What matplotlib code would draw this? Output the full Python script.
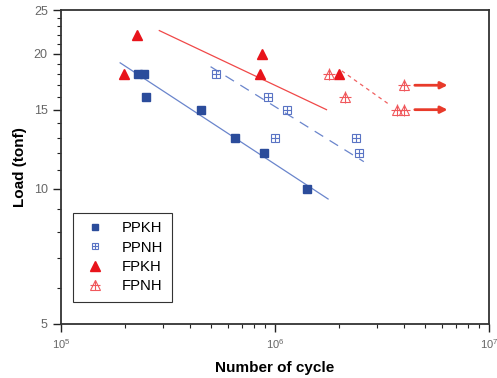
import numpy as np
import matplotlib
matplotlib.use("Agg")
import matplotlib.pyplot as plt
from matplotlib.ticker import FixedLocator, NullFormatter, LogFormatterMathtext

plt.rcParams['font.family'] = ['Liberation Sans', 'DejaVu Sans']

# data
ppkh_x = [2.3e5, 2.45e5, 2.5e5, 4.5e5, 6.5e5, 8.9e5, 1.41e6]
ppkh_y = [18, 18, 16, 15, 13, 12, 10]
ppnh_x = [5.3e5, 9.3e5, 1.14e6, 1.0e6, 2.4e6, 2.48e6]
ppnh_y = [18, 16, 15, 13, 13, 12]
fpkh_x = [1.97e5, 2.26e5, 8.7e5, 8.5e5, 1.98e6]
fpkh_y = [18, 22, 20, 18, 18]
fpnh_x = [1.79e6, 2.12e6, 3.7e6, 4.0e6, 4.0e6]
fpnh_y = [18, 16, 15, 15, 17]

# fitted S-N lines (end points)
ppkh_fit_x = [1.89e5, 1.77e6]
ppkh_fit_y = [19.07, 9.49]
ppnh_fit_x = [5.0e5, 2.6e6]
ppnh_fit_y = [18.7, 11.49]
fpkh_fit_x = [2.88e5, 1.74e6]
fpkh_fit_y = [22.5, 15.0]
fpnh_fit_x = [2.05e6, 3.44e6]
fpnh_fit_y = [18.3, 15.37]

# run-outs
runout_x0 = 4.5e6
runout_x1 = 6.4e6
runout_y = [17, 15]

c_dark = '#2b4c9b'
c_light = '#5a74c4'
c_red = '#e8141b'
c_red2 = '#f0585c'

fig = plt.figure(figsize=(4.97, 3.78), dpi=100)
ax = fig.add_axes([0.1227, 0.1429, 0.8613, 0.8306])
ax.set_xscale('log')
ax.set_yscale('log')

ax.plot(ppkh_fit_x, ppkh_fit_y, color='#6a85cc', lw=0.9)
ax.plot(ppnh_fit_x, ppnh_fit_y, color='#6a85cc', lw=0.9, dashes=(8, 6))
ax.plot(fpkh_fit_x, fpkh_fit_y, color='#f04848', lw=0.9)
ax.plot(fpnh_fit_x, fpnh_fit_y, color='#f06060', lw=0.9, dashes=(3, 3))

h1, = ax.plot(ppkh_x, ppkh_y, 's', color=c_dark, ms=5.5, mec=c_dark)
h2a, = ax.plot(ppnh_x, ppnh_y, 's', mfc='none', mec=c_light, ms=5.5, mew=0.8)
h2b, = ax.plot(ppnh_x, ppnh_y, '+', color=c_light, ms=5.5, mew=0.8)
h3, = ax.plot(fpkh_x, fpkh_y, '^', color=c_red, ms=7.5)
h4a, = ax.plot(fpnh_x, fpnh_y, '^', mfc='none', mec=c_red2, ms=7.5, mew=0.8)
h4b, = ax.plot(fpnh_x, fpnh_y, '+', color=c_red2, ms=8, mew=0.8)

for y in runout_y:
    ax.annotate('', xy=(runout_x1, y), xytext=(runout_x0, y),
                arrowprops=dict(arrowstyle='-|>', color='#e83a2a', lw=2,
                                mutation_scale=10, shrinkA=0, shrinkB=0))

ax.set_xlim(1e5, 1e7)
ax.set_ylim(5, 25)

ax.xaxis.set_major_locator(FixedLocator([1e5, 1e6, 1e7]))
ax.xaxis.set_major_formatter(LogFormatterMathtext())
ax.yaxis.set_major_locator(FixedLocator([5, 10, 15, 20, 25]))
ax.yaxis.set_major_formatter(plt.FuncFormatter(lambda v, p: '%d' % v))
ax.yaxis.set_minor_locator(FixedLocator([6, 7, 8, 9, 11, 12, 13, 14, 16, 17, 18, 19, 21, 22, 23, 24]))
ax.yaxis.set_minor_formatter(NullFormatter())

ax.tick_params(which='major', direction='out', length=6, width=1, colors='#222222',
               labelcolor='#666666', labelsize=9)
ax.tick_params(which='minor', direction='out', length=3, width=0.8, colors='#222222')
ax.tick_params(axis='x', which='major', labelsize=8)
for s in ax.spines.values():
    s.set_linewidth(1.3)
    s.set_color('#333333')

ax.set_xlabel('Number of cycle', fontsize=11, fontweight='bold', labelpad=7)
ax.set_ylabel('Load (tonf)', fontsize=11, fontweight='bold', labelpad=5)

leg = ax.legend([h1, (h2a, h2b), h3, (h4a, h4b)], ['PPKH', 'PPNH', 'FPKH', 'FPNH'],
                loc='lower left', bbox_to_anchor=(0.028, 0.07), borderaxespad=0,
                fontsize=10.7, fancybox=False, edgecolor='#333333', framealpha=1,
                handlelength=1.8, handletextpad=0.9, borderpad=0.6, labelspacing=0.35,
                markerscale=0.9)
leg.get_frame().set_linewidth(0.8)

fig.savefig('out.png', dpi=100)
